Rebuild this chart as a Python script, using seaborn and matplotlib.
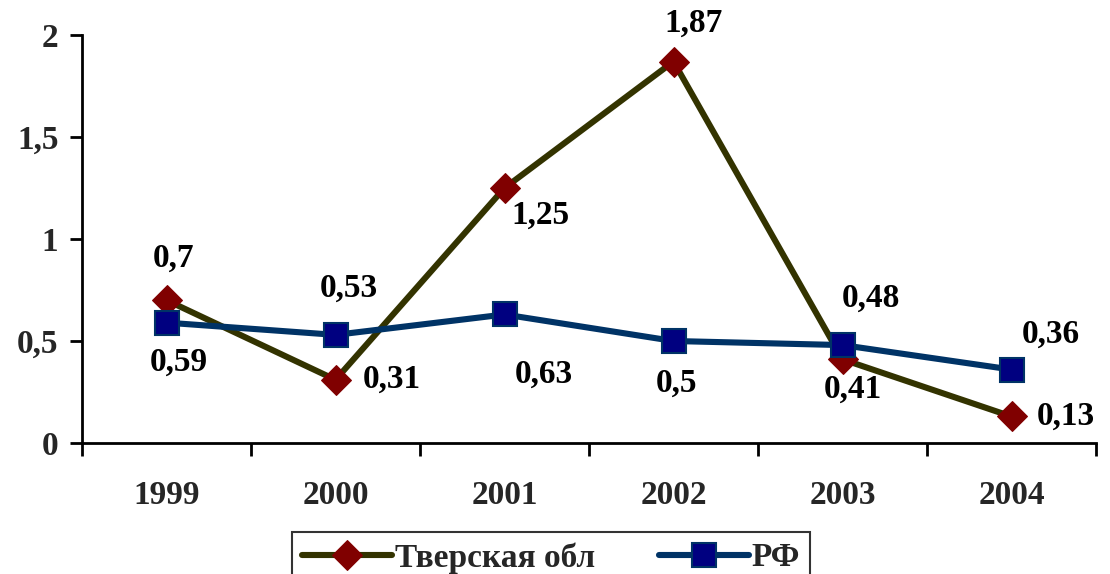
import matplotlib
matplotlib.use("Agg")
import matplotlib.pyplot as plt
import seaborn as sns
import pandas as pd
from matplotlib.ticker import FuncFormatter, FixedLocator

years = ["1999", "2000", "2001", "2002", "2003", "2004"]
tver = [0.7, 0.31, 1.25, 1.87, 0.41, 0.13]
rf = [0.59, 0.53, 0.63, 0.5, 0.48, 0.36]
series_names = ["Тверская обл", "РФ"]
y_ticks = [0, 0.5, 1, 1.5, 2]

# label offsets in pixels (dx, dy) relative to each point
tver_offsets = [(7, 42), (56, 0), (36, -27), (20, 38), (10, -30), (54, 0)]
rf_offsets = [(12, -40), (13, 47), (39, -60), (3, -42), (28, 47), (39, 35)]

sns.set_theme(style="white")
plt.rcParams["font.family"] = ["Liberation Serif", "DejaVu Serif"]
plt.rcParams["font.weight"] = "bold"

fig = plt.figure(figsize=(11.10, 5.74), dpi=100)
ax = fig.add_axes([82 / 1110, 1 - 443 / 574, (1096 - 82) / 1110, (443 - 35) / 574])

x = list(range(len(years)))
df = pd.DataFrame({"x": x + x,
                   "value": tver + rf,
                   "series": [series_names[0]] * len(x) + [series_names[1]] * len(x)})

sns.lineplot(data=df[df.series == series_names[0]], x="x", y="value", ax=ax,
             color="#333300", linewidth=4.4, marker="D", markersize=15.5,
             markerfacecolor="#800000", markeredgecolor="#800000",
             label=series_names[0], zorder=3)
sns.lineplot(data=df[df.series == series_names[1]], x="x", y="value", ax=ax,
             color="#003366", linewidth=4.4, marker="s", markersize=17.5,
             markerfacecolor="#000080", markeredgecolor="#003366", markeredgewidth=1.5,
             label=series_names[1], zorder=4)

def fmt(v):
    s = f"{v:g}"
    return s.replace(".", ",")

for xi, v, (dx, dy) in zip(x, tver, tver_offsets):
    ax.annotate(fmt(v), (xi, v), xytext=(dx, dy), textcoords="offset pixels",
                ha="center", va="center", fontsize=24, fontweight="bold", color="black")
for xi, v, (dx, dy) in zip(x, rf, rf_offsets):
    ax.annotate(fmt(v), (xi, v), xytext=(dx, dy), textcoords="offset pixels",
                ha="center", va="center", fontsize=24, fontweight="bold", color="black")

ax.set_xlim(-0.5, len(years) - 0.5)
ax.set_ylim(0, 2)
ax.set_xlabel("")
ax.set_ylabel("")

ax.set_yticks(y_ticks)
ax.yaxis.set_major_formatter(FuncFormatter(lambda v, p: fmt(v)))
ax.set_xticks(x)
ax.set_xticklabels(years)
ax.xaxis.set_minor_locator(FixedLocator([i - 0.5 for i in range(len(years) + 1)]))

ax.tick_params(axis="x", which="major", length=0, pad=27, labelsize=24)
ax.tick_params(axis="x", which="minor", length=9, width=2, direction="out", color="black", bottom=True)
ax.tick_params(axis="y", which="major", length=9, width=2, direction="out", color="black",
               left=True, labelsize=24, pad=8)
for lab in ax.get_xticklabels() + ax.get_yticklabels():
    lab.set_fontweight("bold")

for side in ["top", "right"]:
    ax.spines[side].set_visible(False)
for side in ["left", "bottom"]:
    ax.spines[side].set_color("black")
    ax.spines[side].set_linewidth(2)

leg = ax.legend(loc="upper center", bbox_to_anchor=(551 / 1110, 1 - 532 / 574),
                bbox_transform=fig.transFigure, borderaxespad=0, ncol=2, frameon=True,
                fancybox=False,
                prop={"family": "Liberation Serif", "weight": "bold", "size": 24},
                handlelength=2.7, columnspacing=1.9, borderpad=0.3, handletextpad=0.1)
leg.get_frame().set_edgecolor("black")
leg.get_frame().set_linewidth(1.5)

fig.savefig("out.png", dpi=100)
